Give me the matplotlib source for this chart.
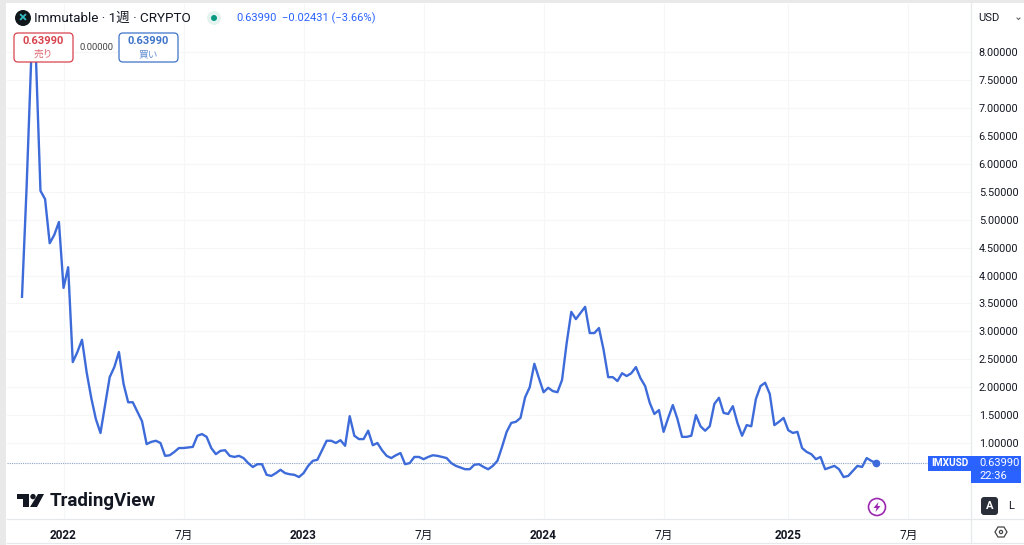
"""Immutable / USD weekly line chart, TradingView style."""
import matplotlib
matplotlib.use('Agg')
import matplotlib.pyplot as plt
import pandas as pd
from matplotlib.patches import Circle, FancyBboxPatch, Polygon, Rectangle

plt.rcParams['font.family'] = ['Roboto', 'Noto Sans CJK JP', 'DejaVu Sans']

FIRST_WEEK = '2021-11-01'
CLOSE = [
    3.62, 5.59, 7.90, 7.95, 5.52, 5.37, 4.58, 4.73, 4.96, 3.78,
    4.15, 2.45, 2.63, 2.85, 2.27, 1.81, 1.43, 1.18, 1.68, 2.18,
    2.36, 2.63, 2.06, 1.73, 1.73, 1.56, 1.39, 0.98, 1.02, 1.04,
    1.00, 0.77, 0.78, 0.84, 0.91, 0.91, 0.92, 0.93, 1.13, 1.16,
    1.11, 0.91, 0.80, 0.86, 0.87, 0.77, 0.75, 0.77, 0.73, 0.64,
    0.57, 0.62, 0.62, 0.43, 0.41, 0.46, 0.52, 0.46, 0.44, 0.43,
    0.39, 0.46, 0.59, 0.68, 0.70, 0.87, 1.04, 1.04, 1.00, 1.05,
    0.95, 1.48, 1.13, 1.07, 1.07, 1.22, 0.96, 1.00, 0.87, 0.77,
    0.73, 0.78, 0.82, 0.62, 0.64, 0.75, 0.75, 0.71, 0.75, 0.78,
    0.77, 0.75, 0.73, 0.64, 0.59, 0.56, 0.53, 0.53, 0.61, 0.62,
    0.57, 0.53, 0.59, 0.68, 0.93, 1.20, 1.36, 1.38, 1.45, 1.82,
    2.00, 2.42, 2.16, 1.91, 1.99, 1.93, 1.91, 2.13, 2.79, 3.35,
    3.22, 3.33, 3.44, 2.97, 2.97, 3.06, 2.67, 2.18, 2.18, 2.11,
    2.25, 2.20, 2.25, 2.36, 2.16, 2.02, 1.72, 1.52, 1.59, 1.20,
    1.45, 1.68, 1.43, 1.11, 1.11, 1.13, 1.50, 1.30, 1.22, 1.30,
    1.70, 1.81, 1.54, 1.52, 1.66, 1.36, 1.13, 1.32, 1.30, 1.79,
    2.02, 2.08, 1.88, 1.32, 1.38, 1.45, 1.23, 1.18, 1.20, 0.91,
    0.84, 0.80, 0.71, 0.75, 0.53, 0.56, 0.59, 0.53, 0.39, 0.41,
    0.50, 0.59, 0.57, 0.73, 0.68, 0.6399,
]
LAST_PRICE = 0.6399

TICK_DATES = ['2022-01-03', '2022-07-04', '2023-01-02', '2023-07-03',
              '2024-01-01', '2024-07-01', '2025-01-06', '2025-07-07']
TICK_LABELS = ['2022', '7月', '2023', '7月', '2024', '7月', '2025', '7月']
PRICE_TICKS = [1.0, 1.5, 2.0, 2.5, 3.0, 3.5, 4.0, 4.5,
               5.0, 5.5, 6.0, 6.5, 7.0, 7.5, 8.0]

BLUE = '#2962ff'
LINE = '#3d6bd9'
INK = '#131722'
GRID = '#f5f6f8'
BORDER = '#e6e8ec'

W, H = 1024, 545
fig = plt.figure(figsize=(W / 100, H / 100), dpi=100, facecolor='white')

# price pane
ax = fig.add_axes([7 / W, (H - 519) / H, 964 / W, 515 / H])
weeks = pd.date_range(FIRST_WEEK, periods=len(CLOSE), freq='W-MON')
week = pd.Timedelta(weeks=1)
ax.plot(weeks, CLOSE, color=LINE, lw=1.7, solid_joinstyle='round', zorder=3)
ax.plot(weeks[-1], CLOSE[-1], 'o', color=LINE, ms=4.5, zorder=4)
ax.axhline(LAST_PRICE, color='#8fa3c8', lw=0.8, ls=(0, (1, 1)), zorder=2)

ax.set_xlim(weeks[0] - 3.25 * week, weeks[0] + 205.6 * week)
ax.set_ylim(-0.362, 8.867)
ax.set_xticks(pd.to_datetime(TICK_DATES))
ax.set_xticklabels(TICK_LABELS, fontsize=8.5, color=INK)
for tick, name in zip(ax.get_xticklabels(), TICK_LABELS):
    if name != '7月':
        tick.set_fontweight('bold')
ax.set_yticks(PRICE_TICKS)
ax.set_yticklabels([f'{p:.5f}' for p in PRICE_TICKS], fontsize=7.8, color=INK)
ax.yaxis.tick_right()
ax.tick_params(axis='both', length=0)
ax.tick_params(axis='x', pad=7)
ax.tick_params(axis='y', pad=5.5)
ax.grid(True, color=GRID, lw=0.8)
ax.set_axisbelow(True)
for spine in ax.spines.values():
    spine.set_visible(False)

# toolbar and badges, in pixel coordinates
ui = fig.add_axes([0, 0, 1, 1], facecolor='none')
ui.set_xlim(0, W)
ui.set_ylim(H, 0)
ui.axis('off')

ui.add_patch(Rectangle((0, 0), 6, H, color='#e9e9e9', lw=0))
ui.add_patch(Rectangle((0, 0), W, 3, color='#e9e9e9', lw=0))
ui.plot([7, W], [519, 519], color=BORDER, lw=0.9)
ui.plot([7, W], [543, 543], color=BORDER, lw=0.9)
ui.plot([971, 971], [3, 543], color=BORDER, lw=0.9)

# header
ui.add_patch(Circle((23, 18), 8, color='#10181c', lw=0))
ui.text(23, 17.5, '×', color='#35c0c9', fontsize=11, fontweight='bold',
        ha='center', va='center')
ui.text(34, 18, 'Immutable · 1週 · CRYPTO', fontsize=9.7, color=INK, va='center')
ui.add_patch(Circle((214, 18), 7, color='#e3f3f0', lw=0))
ui.add_patch(Circle((214, 18), 3, color='#089981', lw=0))
ui.text(236, 18, '0.63990', fontsize=8, color=BLUE, va='center')
ui.text(282, 18, '−0.02431 (−3.66%)', fontsize=8, color=BLUE, va='center')


def order_box(x, color, label):
    ui.add_patch(FancyBboxPatch((x + 3, 36), 53, 23,
                                boxstyle='round,pad=3,rounding_size=4',
                                fc='white', ec=color, lw=0.9, zorder=5))
    ui.text(x + 29.5, 41.5, '0.63990', fontsize=8, fontweight='bold', color=color,
            ha='center', va='center', zorder=6)
    ui.text(x + 29.5, 54, label, fontsize=7, color=color, ha='center', va='center',
            zorder=6, alpha=0.8)


order_box(14, '#d9434e', '売り')
order_box(119, '#3f74c9', '買い')
ui.text(96.5, 47, '0.00000', fontsize=6.8, color='#444444', ha='center', va='center')

# logo
ui.add_patch(Polygon([(17, 494), (29, 494), (29, 507), (23, 507), (23, 499), (17, 499)],
                     color=INK, lw=0))
ui.add_patch(Circle((33, 496.6), 2.7, color=INK, lw=0))
ui.add_patch(Polygon([(38, 494), (44, 494), (37, 507), (30, 507)], color=INK, lw=0))
ui.text(50, 501, 'TradingView', fontsize=13.5, fontweight='bold', color=INK, va='center')

# right scale
ui.text(978, 18, 'USD', fontsize=8, color=INK, va='center')
ui.plot([1017, 1018.5, 1020], [18, 19.5, 18], color='#555555', lw=0.7)
ui.add_patch(Rectangle((928, 456), 43, 15, color=BLUE, lw=0, zorder=5))
ui.text(949.5, 463.5, 'IMXUSD', fontsize=7.2, fontweight='bold', color='white',
        ha='center', va='center', zorder=6)
ui.add_patch(Rectangle((971, 456), 50, 27, color=BLUE, lw=0, zorder=5))
ui.text(979, 463.5, '0.63990', fontsize=8, color='white', va='center', zorder=6)
ui.text(979, 476, '22:36', fontsize=8, color='white', va='center', zorder=6)

ui.add_patch(FancyBboxPatch((983, 499), 13, 14, boxstyle='round,pad=2,rounding_size=3',
                            fc='#2a2e39', ec='none'))
ui.text(989.5, 506, 'A', fontsize=8, fontweight='bold', color='white', ha='center', va='center')
ui.text(1011, 506, 'L', fontsize=8, color=INK, ha='center', va='center')

# lightning badge
ui.add_patch(Circle((877, 507), 8.5, fc='white', ec='#9c27b0', lw=1.2))
ui.add_patch(Polygon([(878.5, 502), (873.5, 508), (876.5, 508), (875.5, 512),
                      (880.5, 506), (877.5, 506)], color='#9c27b0', lw=0))

# settings hexagon
ui.add_patch(Polygon([(995, 532), (998, 527), (1004, 527), (1007, 532), (1004, 537), (998, 537)],
                     fc='white', ec='#444444', lw=0.9))
ui.add_patch(Circle((1001, 532), 1.6, fc='white', ec='#444444', lw=0.9))

fig.savefig('out.png', dpi=100, facecolor='white')
